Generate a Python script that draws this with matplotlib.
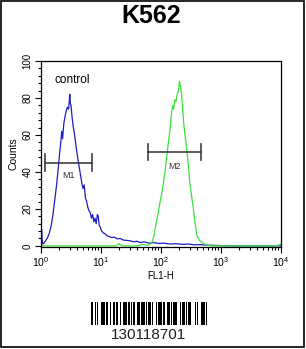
import numpy as np
import matplotlib
matplotlib.use("Agg")
import matplotlib.pyplot as plt
from matplotlib.patches import Rectangle
from matplotlib.ticker import LogLocator, MultipleLocator, NullFormatter

plt.rcParams["font.family"] = ["Liberation Sans", "DejaVu Sans"]
plt.rcParams["mathtext.fontset"] = "custom"
plt.rcParams["mathtext.rm"] = "Liberation Sans"

title = "K562"
barcode_text = "130118701"

# control histogram (log10 FL1-H, counts)
ctrl_logx = [0.0, 0.01, 0.02, 0.03, 0.05, 0.08, 0.11, 0.14, 0.17, 0.20, 0.23, 0.26,
             0.29, 0.31, 0.33, 0.345, 0.36, 0.38, 0.40, 0.42, 0.44, 0.46, 0.47, 0.48,
             0.49, 0.50, 0.52, 0.54, 0.56, 0.58, 0.60, 0.62, 0.64, 0.66, 0.68, 0.70,
             0.72, 0.74, 0.76, 0.78, 0.80, 0.82, 0.84, 0.86, 0.88, 0.90, 0.92, 0.94,
             0.955, 0.97, 0.99, 1.01, 1.04, 1.07, 1.10, 1.14, 1.18, 1.22, 1.27, 1.32,
             1.37, 1.42, 1.48, 1.54, 1.60, 1.66, 1.72, 1.80, 1.88, 1.96, 2.05, 2.15,
             2.25, 2.35, 2.45, 2.55, 2.65, 2.75, 2.85, 2.95, 3.05, 3.2, 3.5, 4.0]
ctrl_counts = [2, 9, 3, 1, 1.5, 3, 4.5, 7, 11, 17, 25, 33,
               43, 50, 56, 62, 58, 66, 70, 73, 75, 74, 78, 82,
               77, 76, 69, 64, 60, 55, 50, 46, 42, 38, 34, 31,
               33, 26, 24, 21, 19, 18, 15, 17, 13, 15, 12, 17,
               16, 11, 10, 8, 7, 6.5, 5.5, 5, 4.5, 4.8, 3.8, 4,
               3.2, 3, 2.8, 2.2, 2.5, 1.8, 2.2, 1.5, 1.8, 1.3, 1.5, 1.0,
               1.2, 0.8, 1.0, 0.6, 0.7, 0.4, 0.3, 0.2, 0.1, 0, 0, 0]

# sample histogram
samp_logx = [0.0, 1.25, 1.3, 1.35, 1.6, 1.7, 1.78, 1.82, 1.85, 1.88, 1.90, 1.93,
             1.96, 1.98, 2.01, 2.04, 2.07, 2.095, 2.12, 2.15, 2.17, 2.195, 2.21, 2.23,
             2.25, 2.27, 2.29, 2.31, 2.325, 2.34, 2.36, 2.38, 2.40, 2.43, 2.46, 2.48,
             2.51, 2.54, 2.57, 2.60, 2.64, 2.68, 2.72, 2.76, 2.85, 3.9, 3.97, 4.0]
samp_counts = [0, 0, 1.2, 0, 0, 0.8, 0.3, 1, 2, 5, 9, 14,
               19, 23, 28, 34, 41, 48, 55, 63, 70, 76, 74, 79,
               78, 82, 84, 89, 86, 83, 74, 66, 60, 52, 42, 34,
               27, 20, 12, 5.5, 3, 2, 1, 0.5, 0, 0, 0.5, 1]

# gates: name, x start, x end, y level, label y
gate_names = ["M1", "M2"]
gate_x0 = [1.17, 60]
gate_x1 = [7.0, 457]
gate_y = [45, 50.7]
gate_label_y = [38, 43]

# barcode bar/space widths (modules), alternating starting with a bar
barcode_widths = [2, 1, 1, 1, 1, 2, 3, 1, 2, 1, 1, 2, 1, 1, 2, 1, 1, 2, 3, 1, 1, 1,
                  1, 1, 1, 2, 2, 1, 3, 1, 1, 1, 2, 1, 1, 2, 1, 1, 3, 1, 1, 2, 2, 1,
                  1, 1, 3, 2, 1, 1, 2, 1, 1, 1, 2, 3, 1, 1, 1, 2, 3, 1, 1]

fig = plt.figure(figsize=(3.06, 3.49), dpi=100)
ax = fig.add_axes([41 / 306, 1 - 247 / 349, 240 / 306, 186 / 349])

ax.plot(10 ** np.array(ctrl_logx), ctrl_counts, color="#1e1ec0", lw=0.9)
ax.plot(10 ** np.array(samp_logx), samp_counts, color="#3ee03e", lw=0.9)

for name, x0, x1, y, ly in zip(gate_names, gate_x0, gate_x1, gate_y, gate_label_y):
    ax.plot([x0, x1], [y, y], color="#404040", lw=1.2)
    ax.plot([x0, x0], [y - 4.5, y + 4.5], color="#404040", lw=1.2)
    ax.plot([x1, x1], [y - 4.5, y + 4.5], color="#404040", lw=1.2)
    ax.text(np.sqrt(x0 * x1), ly, name, fontsize=6.5, ha="center", va="center", color="#303030")

ax.text(1.65, 86.5, "control", fontsize=8.5, ha="left", va="bottom")

ax.set_xscale("log")
ax.set_xlim(1, 1e4)
ax.set_ylim(-0.6, 100)
ax.xaxis.set_major_locator(LogLocator(base=10))
ax.xaxis.set_minor_locator(LogLocator(base=10, subs=np.arange(2, 10)))
ax.xaxis.set_minor_formatter(NullFormatter())
ax.yaxis.set_major_locator(MultipleLocator(20))
ax.yaxis.set_minor_locator(MultipleLocator(4))
ax.tick_params(which="both", direction="out", top=False, right=False, width=0.8)
ax.tick_params(which="major", length=4)
ax.tick_params(which="minor", length=2)
ax.tick_params(axis="x", labelsize=7.5, pad=2)
ax.tick_params(axis="y", labelsize=7, labelrotation=90, pad=2)
for lbl in ax.get_yticklabels():
    lbl.set_va("center")
for sp in ax.spines.values():
    sp.set_linewidth(0.9)
ax.set_xlabel("FL1-H", fontsize=7, labelpad=1)
ax.set_ylabel("Counts", fontsize=7.5, labelpad=3)

fig.text(151 / 306, 1 - 16 / 349, title, fontsize=18, fontweight="bold", ha="center", va="center")

# barcode
bax = fig.add_axes([91 / 306, 1 - 325 / 349, 116 / 306, 23 / 349])
edges = np.concatenate([[0], np.cumsum(barcode_widths)])
bar_left = edges[:-1][::2]
bar_w = np.array(barcode_widths[::2])
bax.bar(bar_left, 1, width=bar_w, align="edge", color="black", linewidth=0)
bax.set_xlim(0, edges[-1])
bax.set_ylim(0, 1)
bax.axis("off")
fig.text(149 / 306, 1 - 335 / 349, barcode_text, fontsize=11, ha="center", va="center", color="#202020")

fig.patches.append(Rectangle((1 / 306, 2 / 349), 303 / 306, 346 / 349, transform=fig.transFigure,
                             fill=False, edgecolor="black", linewidth=1.2))

fig.savefig("out.png", dpi=100)
